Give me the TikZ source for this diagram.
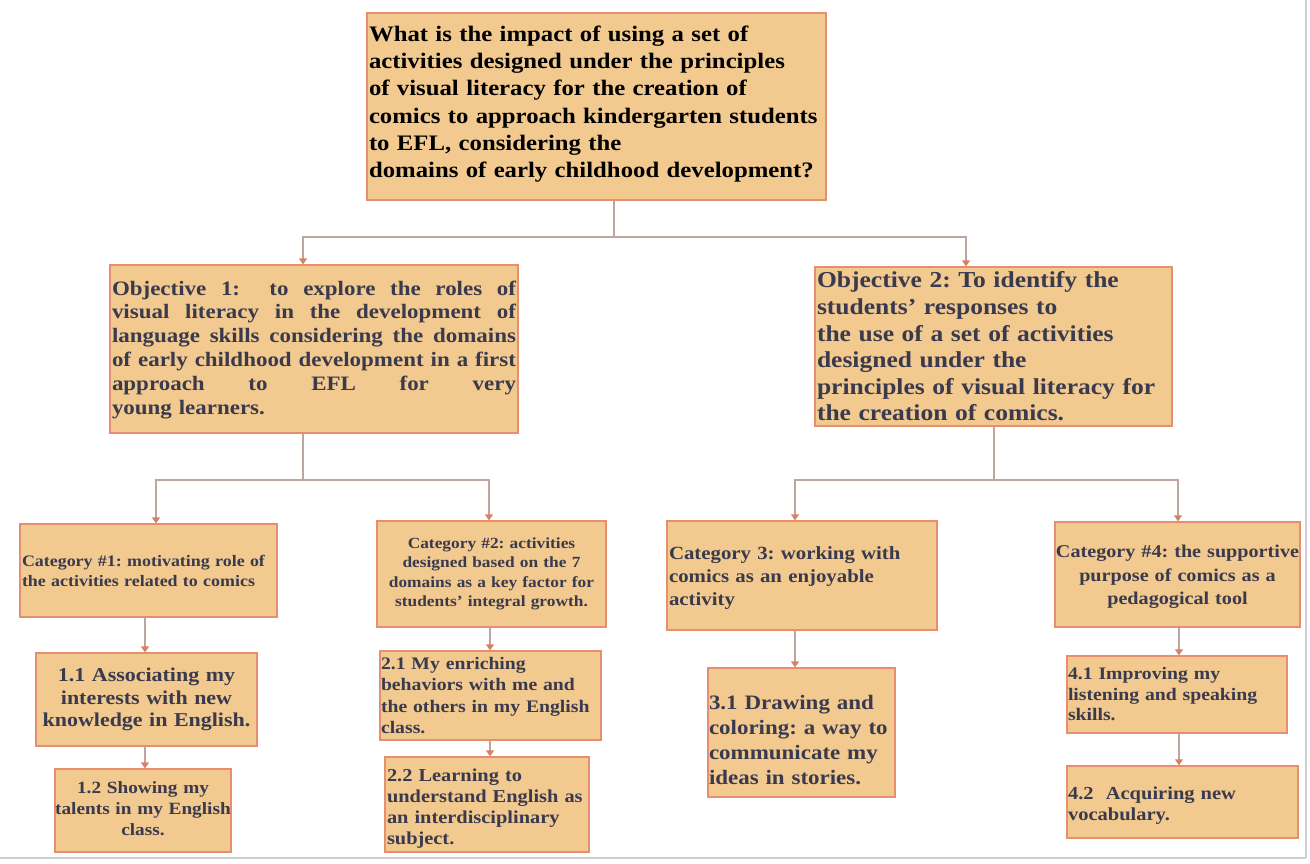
\documentclass[tikz,border=0pt]{standalone}
\usepackage{fontspec}
\setmainfont{Liberation Serif}[FakeStretch=1.12]
\usetikzlibrary{arrows.meta}
\definecolor{boxfill}{RGB}{242,201,142}
\definecolor{boxline}{RGB}{232,142,112}
\definecolor{conline}{RGB}{190,165,160}
\definecolor{tipcol}{RGB}{215,128,100}
\definecolor{txt}{RGB}{58,58,78}
\definecolor{frame}{RGB}{205,205,212}
\tikzset{
  box/.style={draw=boxline, fill=boxfill, line width=1.3pt, inner xsep=2pt, inner ysep=0pt,
    font=\bfseries, text=txt},
  conn/.style={draw=conline, line width=1.3pt},
  arr/.style={conn, -{Triangle[width=8pt,length=6pt,fill=tipcol,color=tipcol]}},
}
\newcommand{\fs}[2]{\fontsize{#1}{#2}\selectfont}
\newcommand{\sline}[1]{\par\hbox to \hsize{\spaceskip=0.25em plus 1fil\relax #1}}
\newcommand{\cenline}[1]{\par\hbox to \hsize{\hss #1\hss}}
\newcommand{\vshift}[1]{\par\vspace{#1}}
\begin{document}
\frenchspacing
\hyphenpenalty=10000
\begin{tikzpicture}[x=1pt,y=-1pt]
\useasboundingbox (0,0) rectangle (1310,863);
\draw[frame, line width=2pt] (1306,0) -- (1306,858) (0,858) -- (1306,858);

% top question
\node[box, text=black, minimum width=459pt, minimum height=187pt, text width=455pt, align=left,
  font=\bfseries\fs{22.1}{27.3}] (top) at (596.5,106.5)
  {What is the impact of using a set of\\activities designed under the principles\\of visual literacy for the creation of\\comics to approach kindergarten students\\to EFL, considering the\\domains of early childhood development?\vshift{5pt}};

% objectives
\node[box, minimum width=408pt, minimum height=168pt, text width=404pt, align=left,
  font=\bfseries\fs{20.5}{23.8}] (obj1) at (314,349)
  {\sline{Objective 1:~ to explore the roles of}\sline{visual literacy in the development of}\sline{language skills considering the domains}\sline{of early childhood development in a first}\sline{approach to EFL for very}\par young learners.\vshift{8pt}};
\node[box, minimum width=357pt, minimum height=159pt, text width=353pt, align=left,
  font=\bfseries\fs{22.8}{26.6}] (obj2) at (993.5,346.5)
  {Objective 2: To identify the\\students’ responses to\\the use of a set of activities\\designed under the\\principles of visual literacy for\\the creation of comics.};

% categories
\node[box, minimum width=257pt, minimum height=93pt, text width=253pt, align=left,
  font=\bfseries\fs{16}{20}] (cat1) at (148.5,570.5)
  {Category \#1: motivating role of\\the activities related to comics};
\node[box, minimum width=229pt, minimum height=106pt, text width=225pt, align=center,
  font=\bfseries\fs{15.5}{19.5}] (cat2) at (491.5,574)
  {Category \#2: activities\\designed based on the 7\\domains as a key factor for\\students' integral growth.};
\node[box, minimum width=270pt, minimum height=109pt, text width=266pt, align=left,
  font=\bfseries\fs{18.6}{23}] (cat3) at (802,575.5)
  {Category 3: working with\\comics as an enjoyable\\activity\vshift{-6pt}};
\node[box, minimum width=245pt, minimum height=105pt, text width=241pt, align=left,
  font=\bfseries\fs{18}{23.5}] (cat4) at (1177.5,574.5)
  {\cenline{Category \#4: the supportive}\cenline{purpose of comics as a}\cenline{pedagogical tool}\vshift{6pt}};

% leaves
\node[box, minimum width=221pt, minimum height=93pt, text width=217pt, align=center,
  font=\bfseries\fs{19.6}{22.5}] (n11) at (146.5,699.5)
  {1.1 Associating my\\interests with new\\knowledge in English.};
\node[box, minimum width=176pt, minimum height=83pt, text width=172pt, align=left,
  font=\bfseries\fs{17.2}{21}] (n12) at (143,810.5)
  {\cenline{1.2 Showing my}\cenline{talents in my English}\cenline{class.}\vshift{12pt}};
\node[box, minimum width=221pt, minimum height=89pt, text width=219pt, inner xsep=1pt, align=left,
  font=\bfseries\fs{17.6}{21.5}] (n21) at (490.5,695.5)
  {2.1 My enriching\\behaviors with me and\\the others in my English\\class.};
\node[box, minimum width=204pt, minimum height=95pt, text width=200pt, align=left,
  font=\bfseries\fs{18.2}{21}] (n22) at (487,804.5)
  {2.2 Learning to\\understand English as\\an interdisciplinary\\subject.\vshift{-8pt}};
\node[box, minimum width=187pt, minimum height=129pt, text width=185pt, inner xsep=1pt, align=left,
  font=\bfseries\fs{20.5}{25}] (n31) at (801.5,732.5)
  {3.1 Drawing and\\coloring: a way to\\communicate my\\ideas in stories.\vshift{-16pt}};
\node[box, minimum width=220pt, minimum height=77pt, text width=218pt, inner xsep=1pt, align=left,
  font=\bfseries\fs{17.6}{20.5}] (n41) at (1177,694.5)
  {4.1 Improving my\\listening and speaking\\skills.};
\node[box, minimum width=231pt, minimum height=72pt, text width=229pt, inner xsep=1pt, align=left,
  font=\bfseries\fs{18.3}{21}] (n42) at (1182.5,802)
  {4.2~ Acquiring new\\vocabulary.\vshift{-8pt}};

% connectors: top level
\coordinate (j0) at (614,237);
\coordinate (b1) at (303,237);
\coordinate (b2) at (966,237);
\draw[conn] (top.south -| j0) -- (j0);
\draw[arr] (b2) -- (b1) -- (b1 |- obj1.north);
\draw[arr] (b1) -- (b2) -- (b2 |- obj2.north);

% objective 1 branch
\coordinate (j1) at (303,480);
\coordinate (c1) at (156,480);
\coordinate (c2) at (489,480);
\draw[conn] (obj1.south -| j1) -- (j1);
\draw[arr] (c2) -- (c1) -- (c1 |- cat1.north);
\draw[arr] (c1) -- (c2) -- (c2 |- cat2.north);

% objective 2 branch
\coordinate (j2) at (994,480);
\coordinate (c3) at (795,480);
\coordinate (c4) at (1178,480);
\draw[conn] (obj2.south -| j2) -- (j2);
\draw[arr] (c4) -- (c3) -- (c3 |- cat3.north);
\draw[arr] (c3) -- (c4) -- (c4 |- cat4.north);

% vertical chains
\coordinate (x1) at (145,0);
\coordinate (x2) at (490,0);
\coordinate (x3) at (795,0);
\coordinate (x4) at (1179,0);
\draw[arr] (cat1.south -| x1) -- (n11.north -| x1);
\draw[arr] (n11.south -| x1) -- (n12.north -| x1);
\draw[arr] (cat2.south -| x2) -- (n21.north -| x2);
\draw[arr] (n21.south -| x2) -- (n22.north -| x2);
\draw[arr] (cat3.south -| x3) -- (n31.north -| x3);
\draw[arr] (cat4.south -| x4) -- (n41.north -| x4);
\draw[arr] (n41.south -| x4) -- (n42.north -| x4);
\end{tikzpicture}
\end{document}
